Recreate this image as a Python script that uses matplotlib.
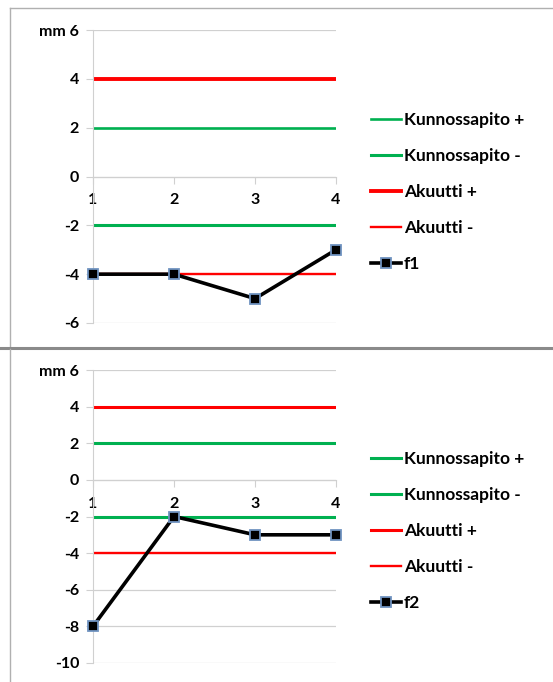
import matplotlib.pyplot as plt
from matplotlib.lines import Line2D

plt.rcParams['font.family'] = ['Lato', 'DejaVu Sans']
plt.rcParams['font.weight'] = 'bold'

# data
x = [1, 2, 3, 4]
kp_plus = [2, 2, 2, 2]
kp_minus = [-2, -2, -2, -2]
ak_plus = [4, 4, 4, 4]
ak_minus = [-4, -4, -4, -4]
f1 = [-4, -4, -5, -3]
f2 = [-8, -2, -3, -3]

yticks_top = [-6, -4, -2, 0, 2, 4, 6]
yticks_bot = [-10, -8, -6, -4, -2, 0, 2, 4, 6]

green = '#00B050'
red = '#FF0000'
grid_c = '#d0d0d0'

fig = plt.figure(figsize=(5.53, 6.82), dpi=100)

# panel frames
fig.add_artist(Line2D([10/553, 1], [1-8/682, 1-8/682], color='#b0b0b0', lw=1))
fig.add_artist(Line2D([10/553, 10/553], [1-8/682, 1-346/682], color='#b0b0b0', lw=1))
fig.add_artist(Line2D([0, 1], [1-347.5/682, 1-347.5/682], color='#8a8a8a', lw=2.2))
fig.add_artist(Line2D([10/553, 10/553], [1-349/682, 0], color='#b0b0b0', lw=1))


def panel(rect, series, name, yticks, leg_y, lws):
    ax = fig.add_axes(rect)
    for t in yticks:
        ax.axhline(t, color=grid_c, lw=0.9, zorder=0)
    ax.plot(x, kp_plus, color=green, lw=lws[0], label='Kunnossapito +', zorder=2)
    ax.plot(x, kp_minus, color=green, lw=lws[1], label='Kunnossapito -', zorder=2)
    ax.plot(x, ak_plus, color=red, lw=lws[2], label='Akuutti +', zorder=2)
    ax.plot(x, ak_minus, color=red, lw=lws[3], label='Akuutti -', zorder=2)
    ax.plot(x, series, color='black', lw=2.6, marker='s', markersize=6.5,
            markerfacecolor='black', markeredgecolor='#6f93c0', markeredgewidth=1.3,
            label=name, zorder=3, clip_on=False)
    ax.set_xlim(1, 4)
    ax.set_ylim(yticks[0], yticks[-1])
    ax.set_yticks(yticks)
    labels = [str(t) for t in yticks]
    labels[-1] = 'mm 6'
    ax.set_yticklabels(labels)
    ax.set_xticks(x)
    for s in ['top', 'right']:
        ax.spines[s].set_visible(False)
    ax.spines['bottom'].set_position(('data', 0))
    ax.spines['bottom'].set_color(grid_c)
    ax.spines['left'].set_color(grid_c)
    ax.tick_params(axis='y', length=5, color=grid_c, labelsize=11.5, pad=5)
    ax.tick_params(axis='x', length=5, color=grid_c, labelsize=11.5, pad=7)
    ax.set_facecolor('none')
    ax.legend(loc='center left', bbox_to_anchor=(371/553, leg_y), bbox_transform=fig.transFigure,
              frameon=False, fontsize=12.5, handlelength=1.75, handletextpad=0.15,
              labelspacing=1.15, borderpad=0, borderaxespad=0)
    return ax


panel([93/553, 1-323/682, 243/553, 293/682], f1, 'f1', yticks_top, 1-192/682,
      [1.9, 2.2, 2.8, 1.7])
panel([93/553, 1-663/682, 243/553, 293/682], f2, 'f2', yticks_bot, 1-531/682,
      [2.2, 2.2, 2.2, 1.7])

fig.savefig('out.png', dpi=100)
